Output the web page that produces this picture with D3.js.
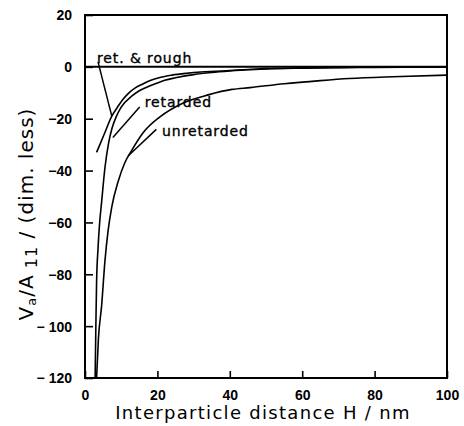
<!DOCTYPE html>
<html>
<head>
<meta charset="utf-8">
<script src="https://cdn.jsdelivr.net/npm/d3@7"></script>
<style>
  html, body { margin: 0; padding: 0; background: #fff; }
  svg { display: block; }
</style>
</head>
<body>
<svg id="chart" width="464" height="426"></svg>
<script>
// Attraction energy between particles versus separation H (nm)
const unretardedH = [3.2, 3.7, 4.6, 5.5, 6.4, 7.4, 9.2, 11, 13, 16, 20.7, 27, 34, 40.6, 45.6, 55, 65, 73, 85, 100];
const unretardedV = [-120, -105, -92, -75, -63, -54, -44, -37, -32, -25.5, -19.3, -14, -10.8, -8.7, -8.0, -6.5, -5.3, -4.5, -3.8, -3.2];

const retardedH = [2.8, 3.0, 3.2, 3.6, 4.0, 4.6, 5.5, 6.5, 7.5, 8.7, 10, 12.9, 15, 17.5, 20, 22, 25, 30, 35, 40, 45, 50, 60, 70, 80, 100];
const retardedV = [-120, -100, -83, -70, -61, -52, -39, -29.5, -23.5, -19, -15.5, -11.3, -9.2, -7.6, -6.2, -5.2, -4.2, -3.0, -2.2, -1.6, -1.1, -0.8, -0.5, -0.3, -0.2, -0.1];

const roughH = [3.2, 5.3, 7.4, 9, 10.5, 12, 14, 15.7, 18, 20.7, 24, 28, 32, 36, 40, 45, 50, 60, 70, 80, 100];
const roughV = [-33, -26, -19, -15.5, -12.5, -10.2, -8, -6.8, -5.3, -4.1, -3.2, -2.5, -2.0, -1.7, -1.4, -1.0, -0.7, -0.4, -0.25, -0.15, -0.1];

const zeroH = [0, 100];
const zeroV = [0, 0];

const xTicks = [0, 20, 40, 60, 80, 100];
const xTickLabels = ["0", "20", "40", "60", "80", "100"];
const yTicks = [20, 0, -20, -40, -60, -80, -100, -120];
const yTickLabels = ["20", "0", "\u221220", "\u221240", "\u221260", "\u221280", "\u2212 100", "\u2212 120"];

// Curve labels with their leader lines (data units: [H, V] for text anchor, leader start, leader end)
const labelText = ["ret. & rough", "retarded", "unretarded"];
const labelPos = [[3.3, 1.5], [16.5, -15.3], [21.3, -26.6]];
const leaderFrom = [[3.6, 1.9], [15.1, -15.5], [19.7, -24.1]];
const leaderTo = [[7.4, -19.0], [7.7, -27.2], [11.9, -34.4]];

const svg = d3.select("#chart");
const pLeft = 85, pRight = 447, pTop = 15, pBottom = 378;

const x = d3.scaleLinear().domain([0, 100]).range([pLeft, pRight]);
const y = d3.scaleLinear().domain([-120, 20]).range([pBottom, pTop]);

const ink = "#000";

svg.append("defs").append("clipPath").attr("id", "plotClip")
  .append("rect").attr("x", pLeft).attr("y", pTop).attr("width", pRight - pLeft).attr("height", pBottom - pTop);

// Axes with inward ticks and no domain path (frame drawn separately)
const xAxis = d3.axisBottom(x).tickValues(xTicks).tickSize(-7)
  .tickFormat((d, i) => xTickLabels[i]).tickPadding(12);
const yAxis = d3.axisLeft(y).tickValues(yTicks).tickSize(-8)
  .tickFormat((d, i) => yTickLabels[i]).tickPadding(13);

const gx = svg.append("g").attr("transform", `translate(0,${pBottom})`).call(xAxis);
const gy = svg.append("g").attr("transform", `translate(${pLeft},0)`).call(yAxis);
[gx, gy].forEach(g => {
  g.select(".domain").remove();
  g.selectAll(".tick line").attr("stroke", ink).attr("stroke-width", 1.6);
  g.selectAll(".tick text")
    .attr("fill", ink)
    .style("font-family", "'Liberation Sans', Arial, sans-serif")
    .style("font-weight", "bold")
    .style("font-size", "14px");
});
gy.selectAll(".tick text").attr("dy", "0.35em");
gx.selectAll(".tick text").attr("dy", "0.71em");

// Plot frame
svg.append("rect")
  .attr("x", pLeft).attr("y", pTop)
  .attr("width", pRight - pLeft).attr("height", pBottom - pTop)
  .attr("fill", "none").attr("stroke", ink).attr("stroke-width", 2);

const line = d3.line()
  .x(d => x(d[0])).y(d => y(d[1]))
  .curve(d3.curveMonotoneX);

const curves = [
  { h: zeroH, v: zeroV, w: 2 },
  { h: unretardedH, v: unretardedV, w: 1.6 },
  { h: retardedH, v: retardedV, w: 1.6 },
  { h: roughH, v: roughV, w: 1.6 }
];

const plot = svg.append("g").attr("clip-path", "url(#plotClip)");
curves.forEach(c => {
  plot.append("path")
    .datum(c.h.map((h, i) => [h, c.v[i]]))
    .attr("d", line)
    .attr("fill", "none")
    .attr("stroke", ink)
    .attr("stroke-width", c.w)
    .attr("stroke-linejoin", "round");
});

// Leader lines and curve labels
labelText.forEach((t, i) => {
  svg.append("line")
    .attr("x1", x(leaderFrom[i][0])).attr("y1", y(leaderFrom[i][1]))
    .attr("x2", x(leaderTo[i][0])).attr("y2", y(leaderTo[i][1]))
    .attr("stroke", ink).attr("stroke-width", 1.5);
  svg.append("text")
    .attr("x", x(labelPos[i][0])).attr("y", y(labelPos[i][1]))
    .attr("fill", ink)
    .style("font-family", "'DejaVu Sans', sans-serif")
    .style("font-size", "14px")
    .style("letter-spacing", "0.9px")
    .style("stroke", ink)
    .style("stroke-width", "0.35px")
    .text(t);
});

// Axis titles
svg.append("text")
  .attr("x", (pLeft + pRight) / 2 - 3).attr("y", 419)
  .attr("text-anchor", "middle")
  .attr("fill", ink)
  .style("font-family", "'DejaVu Sans', sans-serif")
  .style("font-size", "18px")
  .style("letter-spacing", "1.3px")
  .text("Interparticle distance H / nm");

const yTitle = svg.append("text")
  .attr("transform", "translate(33,214) rotate(-90)")
  .attr("text-anchor", "middle")
  .attr("fill", ink)
  .style("font-family", "'DejaVu Sans', sans-serif")
  .style("font-size", "20px")
  .style("letter-spacing", "1px");
yTitle.append("tspan").text("V");
yTitle.append("tspan").attr("baseline-shift", "-25%").style("font-size", "13px").text("a");
yTitle.append("tspan").text("/A");
yTitle.append("tspan").attr("baseline-shift", "-25%").style("font-size", "16px").text(" 11");
yTitle.append("tspan").text(" / (dim. less)");
</script>
</body>
</html>
